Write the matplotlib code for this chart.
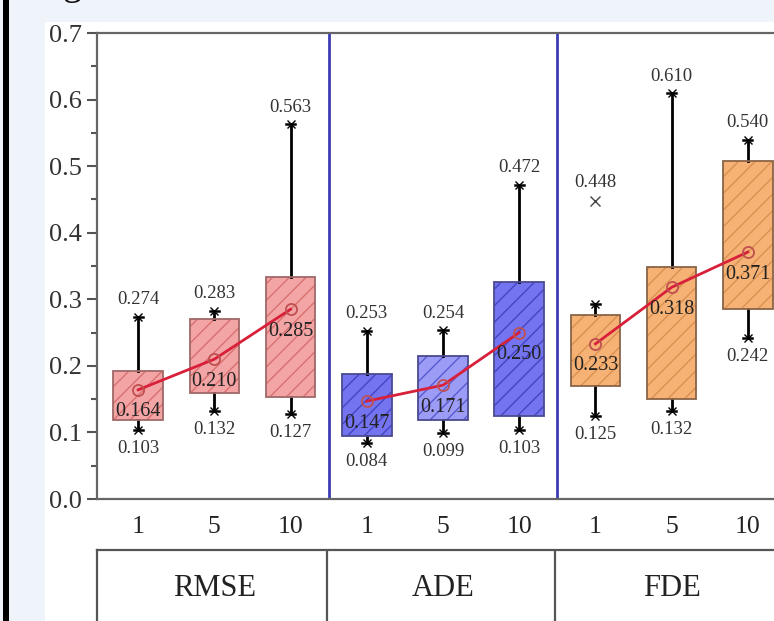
import matplotlib
matplotlib.use('Agg')
import matplotlib.pyplot as plt
import matplotlib.transforms as mtransforms
from matplotlib.patches import Rectangle, PathPatch
import numpy as np

plt.rcParams['font.family'] = ['Liberation Serif', 'DejaVu Serif']
plt.rcParams['hatch.linewidth'] = 1.0

# data
groups = ['RMSE', 'ADE', 'FDE']
k_labels = ['1', '5', '10']
q1 = [0.119, 0.159, 0.153, 0.095, 0.118, 0.125, 0.169, 0.150, 0.286]
q3 = [0.193, 0.270, 0.334, 0.188, 0.215, 0.326, 0.276, 0.349, 0.508]
whislo = [0.103, 0.132, 0.127, 0.084, 0.099, 0.103, 0.125, 0.132, 0.242]
whishi = [0.274, 0.283, 0.563, 0.253, 0.254, 0.472, 0.293, 0.610, 0.540]
hi_labels = ['0.274', '0.283', '0.563', '0.253', '0.254', '0.472', '', '0.610', '0.540']
means = [0.164, 0.210, 0.285, 0.147, 0.171, 0.250, 0.233, 0.318, 0.371]
outliers = [[], [], [], [], [], [], [0.448], [], []]

# styles
fills = ['#f3a5a5', '#f3a5a5', '#f3a5a5', '#7474f0', '#9c9cf7', '#7474f0', '#f5b274', '#f5b274', '#f5b274']
hatch_cols = ['#d87070', '#d87070', '#d87070', '#4545c4', '#5a5ad0', '#4545c4', '#da9050', '#da9050', '#da9050']
edge_cols = ['#a06868', '#a06868', '#a06868', '#4a4a90', '#4a4a90', '#4a4a90', '#8a6446', '#8a6446', '#8a6446']

W, H = 774, 621
fig = plt.figure(figsize=(W / 100, H / 100), dpi=100)
fig.patch.set_facecolor('#eef4fa')
fig.patches.append(Rectangle((45 / W, 0), 1, 1 - 22 / H, transform=fig.transFigure,
                             facecolor='white', edgecolor='none', zorder=-5))
fig.patches.append(Rectangle((3 / W, 0), 6 / W, 1, transform=fig.transFigure,
                             facecolor='black', edgecolor='none', zorder=1))
# bottom of a cut-off heading, as in the screenshot
fig.text(62 / W, 1 + 6 / H, 'g', fontsize=28, color='#111111', ha='left', va='baseline')

pos = np.arange(len(means))
xl = (-0.54, 8.54)
ax = fig.add_axes([97 / W, 1 - 499 / H, 692 / W, 466 / H])
ax.set_facecolor('white')

stats = []
for i in range(len(means)):
    stats.append({'q1': q1[i], 'q3': q3[i], 'med': means[i], 'whislo': whislo[i],
                  'whishi': whishi[i], 'fliers': outliers[i], 'mean': means[i]})

bp = ax.bxp(stats, positions=pos, widths=0.65, patch_artist=True, showcaps=False,
            showfliers=False, manage_ticks=False,
            medianprops=dict(visible=False),
            whiskerprops=dict(color='black', lw=2))
for i, box in enumerate(bp['boxes']):
    box.set_facecolor(fills[i])
    box.set_edgecolor(hatch_cols[i])
    box.set_hatch('//')
    box.set_linewidth(0)
    ax.add_patch(PathPatch(box.get_path(), fill=False, edgecolor=edge_cols[i], lw=1.3, zorder=3))

# caps with small x markers
for i in range(len(means)):
    for v in (whislo[i], whishi[i]):
        ax.plot([pos[i] - 0.06, pos[i] + 0.06], [v, v], color='black', lw=1.8, zorder=4)
        ax.plot(pos[i], v, marker='x', ms=6, mew=1.0, color='black', zorder=4)
    for o in outliers[i]:
        ax.plot(pos[i], o, marker='x', ms=7, mew=1.0, color='#444444', zorder=4)
        ax.annotate(f'{o:.3f}', (pos[i], o), xytext=(0, 7), textcoords='offset points',
                    ha='center', va='bottom', fontsize=13.5, color='#333333')
    if hi_labels[i]:
        ax.annotate(hi_labels[i], (pos[i], whishi[i]), xytext=(0, 6), textcoords='offset points',
                    ha='center', va='bottom', fontsize=13.5, color='#333333')
    ax.annotate(f'{whislo[i]:.3f}', (pos[i], whislo[i]), xytext=(0, -7), textcoords='offset points',
                ha='center', va='top', fontsize=13.5, color='#333333')

# mean lines per group
for g in range(len(groups)):
    idx = pos[g * 3:(g + 1) * 3]
    mv = [means[j] for j in idx]
    ax.plot(idx, mv, color='#d8203a', lw=2, zorder=5)
    ax.plot(idx, mv, 'o', ms=8, mfc='none', mec='#c05050', mew=1.3, zorder=6)
    for j in idx:
        ax.annotate(f'{means[j]:.3f}', (j, means[j]), xytext=(0, -9), textcoords='offset points',
                    ha='center', va='top', fontsize=14.5, color='#222222', zorder=7)

for s in (2.5, 5.5):
    ax.axvline(s, color='#3c3cb4', lw=2, zorder=2)

ax.set_xlim(*xl)
ax.set_ylim(0, 0.7)
ax.set_yticks(np.arange(0, 0.71, 0.1))
ax.set_yticks(np.arange(0.05, 0.7, 0.1), minor=True)
ax.set_yticklabels([f'{v:.1f}' for v in np.arange(0, 0.71, 0.1)])
ax.set_xticks(pos)
ax.set_xticklabels(k_labels * len(groups))
ax.tick_params(axis='y', which='major', length=7, width=1.5, color='#555555',
               labelsize=19, labelcolor='#333333', pad=4)
ax.tick_params(axis='y', which='minor', length=4, width=1.5, color='#555555')
ax.tick_params(axis='x', length=0, labelsize=18.5, labelcolor='#222222', pad=12)
for sp in ('left', 'bottom', 'top'):
    ax.spines[sp].set_color('#666666')
    ax.spines[sp].set_linewidth(1.6)
ax.spines['right'].set_visible(False)

# group table below
tax = fig.add_axes([97 / W, -0.05, 692 / W, (1 - 550 / H) + 0.05])
tax.set_xlim(*xl)
tax.set_ylim(0, 1)
tax.set_facecolor('none')
tax.set_xticks([])
tax.set_yticks([])
for sp in ('right', 'bottom'):
    tax.spines[sp].set_visible(False)
for sp in ('left', 'top'):
    tax.spines[sp].set_color('#555555')
    tax.spines[sp].set_linewidth(1.6)
for s in (2.48, 5.47):
    tax.axvline(s, color='#555555', lw=1.6)
trans = mtransforms.blended_transform_factory(tax.transData, fig.transFigure)
for g, name in enumerate(groups):
    tax.text(g * 3 + 1, 1 - 588 / H, name, transform=trans, ha='center', va='center',
             fontsize=22, color='#222222')

fig.savefig('out.png', dpi=100, facecolor=fig.get_facecolor())
